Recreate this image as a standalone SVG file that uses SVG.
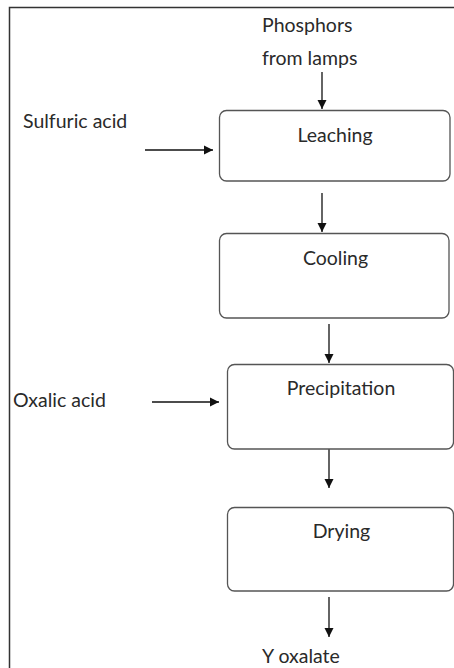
<svg xmlns="http://www.w3.org/2000/svg" width="454" height="668" viewBox="0 0 454 668">
<style>
.t{font-family:Lato,"Open Sans","Liberation Sans",sans-serif;font-size:19.5px;fill:#2a2a2a}
.c{text-anchor:middle}
.box{fill:#fff;stroke:#555;stroke-width:1.3}
.ln{stroke:#111;stroke-width:1.3;fill:none}
</style>
<defs>
<marker id="ah" viewBox="0 0 10 10" refX="10" refY="5" markerWidth="9" markerHeight="10" markerUnits="userSpaceOnUse" orient="auto">
<path d="M0,0 L10,5 L0,10 Z" fill="#111"/>
</marker>
</defs>
<rect width="454" height="668" fill="#fff"/>
<path d="M9.5,668 V7.5 H454" stroke="#333" stroke-width="1.5" fill="none"/>
<g id="connectors">
<line class="ln" x1="322" y1="72" x2="322" y2="109" marker-end="url(#ah)"/>
<line class="ln" x1="145" y1="150" x2="213" y2="150" marker-end="url(#ah)"/>
<line class="ln" x1="322" y1="193" x2="322" y2="232" marker-end="url(#ah)"/>
<line class="ln" x1="329" y1="324" x2="329" y2="363" marker-end="url(#ah)"/>
<line class="ln" x1="152" y1="402" x2="219" y2="402" stroke="#555" marker-end="url(#ah)"/>
<line class="ln" x1="329" y1="448" x2="329" y2="488" marker-end="url(#ah)"/>
<line class="ln" x1="329" y1="597" x2="329" y2="637" marker-end="url(#ah)"/>
</g>
<g id="phosphors"><text class="t" x="262" y="32">Phosphors</text><text class="t" x="262" y="65">from lamps</text></g>
<g id="sulfuric"><text class="t" x="23" y="128">Sulfuric acid</text></g>
<g id="leaching"><rect class="box" x="219.5" y="110.5" width="230.5" height="70.5" rx="7"/><text class="t c" x="335" y="142">Leaching</text></g>
<g id="cooling"><rect class="box" x="219.5" y="233.5" width="229.5" height="84.5" rx="7"/><text class="t c" x="335.5" y="265">Cooling</text></g>
<g id="oxalic"><text class="t" x="13" y="407">Oxalic acid</text></g>
<g id="precipitation"><rect class="box" x="227.5" y="364.5" width="226" height="84.5" rx="7"/><text class="t c" x="341" y="395">Precipitation</text></g>
<g id="drying"><rect class="box" x="227.5" y="507.5" width="226" height="83.5" rx="7"/><text class="t c" x="341.5" y="538">Drying</text></g>
<g id="yoxalate"><text class="t" x="262" y="663">Y oxalate</text></g>
</svg>
